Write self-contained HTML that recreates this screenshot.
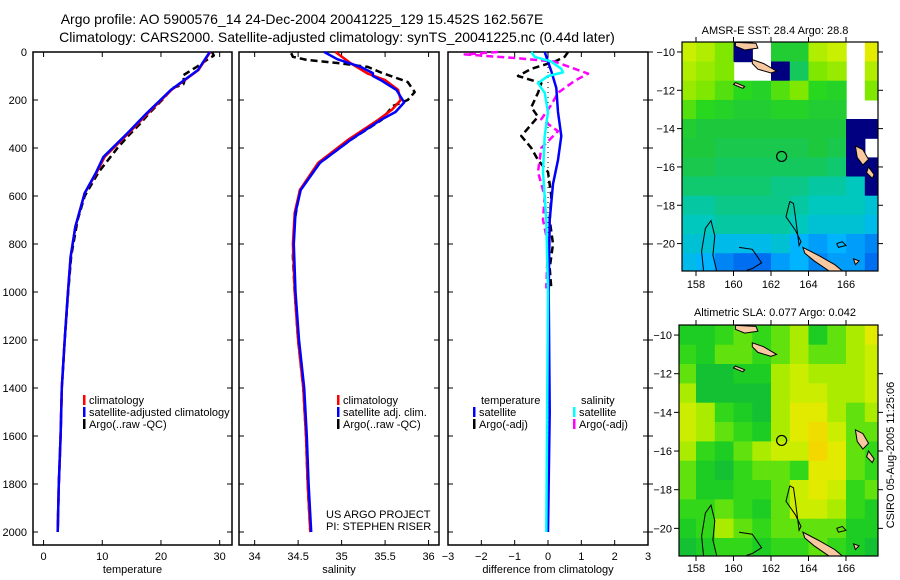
<!DOCTYPE html>
<html><head><meta charset="utf-8"><style>
html,body{margin:0;padding:0;background:#fff;width:900px;height:580px;overflow:hidden}
svg{display:block;font-family:"Liberation Sans",sans-serif}
</style></head><body>
<svg id="c" width="900" height="580" viewBox="0 0 900 580" xmlns="http://www.w3.org/2000/svg">
<text x="302" y="24" font-size="14" text-anchor="middle">Argo profile: AO 5900576_14 24-Dec-2004 20041225_129 15.452S 162.567E</text>
<text x="337" y="42" font-size="14" text-anchor="middle">Climatology: CARS2000. Satellite-adjusted climatology: synTS_20041225.nc (0.44d later)</text>
<text x="775" y="34" font-size="11" text-anchor="middle">AMSR-E SST: 28.4 Argo: 28.8</text>
<text x="775" y="316" font-size="11" text-anchor="middle">Altimetric SLA: 0.077 Argo: 0.042</text>
<text transform="translate(894,455) rotate(-90)" font-size="11" text-anchor="middle">CSIRO 05-Aug-2005 11:25:06</text>
</svg>
<script>
// ---- profile data ----
const tDepth = [0,75,158,254,338,437,504,588,729,854,1021,1200,1400,1600,1800,2000];
const tClim  = [28.4,26.4,21.8,17.8,14.5,10.4,9.0,7.0,5.4,4.6,4.1,3.6,3.1,2.9,2.6,2.4];
const tSat   = [28.3,26.3,21.7,17.6,14.3,10.2,8.9,7.0,5.4,4.6,4.1,3.6,3.1,2.9,2.6,2.4];
const argoTDepth = [0,15,30,60,100,120,135,150,200,250,300,350,400,450,500,600,700,850,1000,1200,1400,1600,1800,2000];
const argoT = [28.7,29.0,28.0,26.2,23.6,24.0,23.8,22.0,20.2,18.2,16.4,14.4,12.6,11.0,9.4,7.0,5.8,4.7,4.2,3.6,3.1,2.9,2.6,2.4];
const sDepth = [0,46,90,117,158,200,240,283,367,462,575,670,800,1000,1200,1400,1600,1800,2000];
const sClim  = [34.93,35.1,35.3,35.5,35.65,35.68,35.58,35.42,35.07,34.73,34.52,34.46,34.44,34.46,34.5,34.56,34.59,34.61,34.64];
const sSatDepth = [0,30,62,88,100,117,158,210,250,283,367,462,575,670,800,1000,1200,1400,1600,1800,2000];
const sSat  = [34.8,34.95,35.22,35.36,35.36,35.45,35.63,35.72,35.62,35.45,35.1,34.75,34.53,34.47,34.45,34.47,34.51,34.57,34.6,34.62,34.65];
const argoSDepth = [5,20,33,46,62,85,125,167,200,225,283,367,462,575,700,850,1000,1200,1400,1600,1800,2000];
const argoS = [34.42,34.44,34.6,34.95,35.3,35.45,35.76,35.84,35.76,35.59,35.46,35.1,34.75,34.52,34.46,34.44,34.46,34.5,34.56,34.59,34.61,34.64];
// ---- difference data ----
const dTsatDepth = [0,40,80,150,250,350,450,550,700,1000,1500,2000];
const dTsat = [-0.1,0.0,0.1,0.25,0.3,0.4,0.3,0.15,0.05,0.02,0.05,0.0];
const dSsatDepth = [0,20,40,70,85,100,130,170,250,350,500,700,1000,2000];
const dSsat = [-0.5,-0.4,0.1,0.4,0.45,0.0,-0.3,-0.1,0.0,-0.1,-0.15,-0.05,0.0,-0.05];
const dArgoTDepth = [0,20,40,70,100,130,170,230,270,350,400,450,500,600,700,800,900,985];
const dArgoT = [0.6,0.5,0.2,-0.5,-0.9,-0.2,-0.3,-0.5,-0.3,-0.8,-0.5,-0.3,0.0,0.1,0.05,0.15,0.05,0.1];
const dArgoSDepth = [0,10,25,40,60,90,120,170,220,280,330,400,500,600,700,800,985];
const dArgoS = [-1.5,-2.5,-1.0,0.2,0.6,1.2,0.8,0.3,0.1,-0.2,0.3,-0.2,-0.3,-0.1,-0.15,0.0,-0.05];
// ---- map data (rows lat -10..-21, cols lon 157.5..167.5) ----
const mapLats = [-10,-11,-12,-13,-14,-15,-16,-17,-18,-19,-20,-21];
const mapLons = [157.5,158.5,159.5,160.5,161.5,162.5,163.5,164.5,165.5,166.5,167.5];
const sstGrid = [
[29.3,29.2,29.0,26,null,28.6,28.6,29.2,29.3,null,29.5],
[29.2,29.1,29.0,null,null,26,28.3,29.0,29.1,null,29.2],
[29.1,29.0,28.9,28.8,28.7,28.9,29.0,28.8,28.7,null,29.0],
[28.9,28.8,28.7,28.6,28.6,28.7,28.7,28.6,28.6,null,null],
[28.6,28.5,28.5,28.5,28.5,28.5,28.5,28.5,28.5,26,26],
[28.5,28.5,28.4,28.4,28.4,28.4,28.4,28.5,28.4,26,null],
[28.4,28.4,28.3,28.3,28.3,28.3,28.3,28.3,28.2,26,26],
[28.2,28.2,28.2,28.2,28.2,28.1,28.1,28.0,28.0,27.9,26],
[28.0,28.0,28.1,28.1,28.1,28.1,28.0,27.9,27.9,27.9,27.8],
[27.9,27.9,28.0,28.0,28.0,28.0,27.9,27.8,27.8,27.8,27.7],
[27.8,27.8,27.7,27.7,27.7,27.8,27.6,27.5,27.6,27.5,27.4],
[27.7,27.6,27.4,27.3,27.3,27.5,27.6,27.4,27.5,27.5,27.3]];
const slaGrid = [
[0.3,0.3,0.4,0.5,0.4,0.5,0.6,0.3,0.5,0.6,0.8],
[0.4,0.3,0.5,0.5,0.4,0.5,0.6,0.5,0.5,0.6,0.7],
[0.5,0.2,0.2,0.3,0.3,0.6,0.7,0.6,0.6,0.6,0.7],
[0.6,0.2,0.2,0.2,0.2,0.6,0.7,0.7,0.6,0.6,0.7],
[0.7,0.6,0.4,0.3,0.2,0.6,0.8,0.8,0.6,0.5,0.6],
[0.7,0.6,0.5,0.4,0.3,0.6,0.8,0.9,0.7,0.5,0.5],
[0.6,0.4,0.3,0.5,0.6,0.7,0.7,0.95,0.8,0.5,0.4],
[0.5,0.3,0.2,0.4,0.5,0.5,0.4,0.8,0.8,0.5,0.4],
[0.5,0.3,0.3,0.4,0.4,0.5,0.7,0.8,0.7,0.4,0.5],
[0.4,0.4,0.5,0.4,0.3,0.5,0.7,0.7,0.6,0.4,0.3],
[0.3,0.4,0.6,0.5,0.4,0.5,0.5,0.5,0.5,0.3,0.3],
[0.2,0.3,0.4,0.4,0.3,0.4,0.4,0.5,0.4,0.3,0.2]];
const floatLon = 162.567, floatLat = -15.452;

const NS='http://www.w3.org/2000/svg';
const svg=document.getElementById('c');
function mk(tag,attrs,parent){const e=document.createElementNS(NS,tag);for(const k in attrs)e.setAttribute(k,attrs[k]);(parent||svg).appendChild(e);return e;}
const yD = d => 52 + d*0.24;
const PY0=52, PY1=545;

function panel(x0,x1,xmin,xmax,ticks,tickLabels,xlabel,name,rightTicks){
  const xs = v => x0 + (v-xmin)/(xmax-xmin)*(x1-x0);
  const g=mk('g',{});
  
  
  const r=mk('rect',{x:x0,y:PY0,width:x1-x0,height:PY1-PY0,fill:'none',stroke:'#000','stroke-width':1.5},g);
  
  
  ticks.forEach((t,i)=>{
    const x=xs(t);
    mk('line',{x1:x,x2:x,y1:PY1,y2:PY1-5,stroke:'#000'},g);
    mk('line',{x1:x,x2:x,y1:PY0,y2:PY0+5,stroke:'#000'},g);
    const tl=mk('text',{x:x,y:PY1+15,'font-size':11,'text-anchor':'middle'},g);
    tl.textContent=tickLabels[i];
    
    
  });
  for(let d=0;d<=2000;d+=200){
    const y=yD(d);
    mk('line',{x1:x0,x2:x0+5,y1:y,y2:y,stroke:'#000'},g);
    mk('line',{x1:x1,x2:x1-5,y1:y,y2:y,stroke:'#000'},g);
    if(rightTicks) mk('line',{x1:x1,x2:x1+5,y1:y,y2:y,stroke:'#000'},g);
  }
  const xl=mk('text',{x:(x0+x1)/2,y:PY1+28,'font-size':11,'text-anchor':'middle'},g);
  xl.textContent=xlabel;
  
  
  return xs;
}
function line(xs,vals,depths,color,w,dash,name){
  const pts=vals.map((v,i)=>xs(v).toFixed(1)+','+yD(depths[i]).toFixed(1)).join(' ');
  const a={points:pts,fill:'none',stroke:color,'stroke-width':w,'stroke-linejoin':'round'};
  if(dash)a['stroke-dasharray']=dash;
  const p=mk('polyline',a);
  
  
}
function legend(x,y,color,label,name){
  const b=mk('rect',{x:x,y:y-6,width:2.5,height:10,fill:color});
  
  
  const t=mk('text',{x:x+6,y:y+3,'font-size':11});
  t.textContent=label;
  
  
}
function txt(x,y,s,name,anchor){const t=mk('text',{x:x,y:y,'font-size':11,'text-anchor':anchor||'start'});t.textContent=s;}

// depth axis labels
for(let d=0;d<=2000;d+=200){
  const t=mk('text',{x:27,y:yD(d)+4,'font-size':11,'text-anchor':'end'});
  t.textContent=d;
  
  
}
// panel 1
const xT=panel(33,232,-1.8,32.1,[0,10,20,30],['0','10','20','30'],'temperature','temperature-panel',false);
line(xT,argoT,argoTDepth,'#000',2.5,'7,4','argo-temperature-line');
line(xT,tClim,tDepth,'#f00',2.5,null,'climatology-temperature-line');
line(xT,tSat,tDepth,'#00f',2.5,null,'satellite-temperature-line');
legend(83,401,'#f00','climatology','legend-climatology');
legend(83,413,'#00f','satellite-adjusted climatology','legend-satellite');
legend(83,425,'#000','Argo(..raw -QC)','legend-argo');
// panel 2
const xS=panel(239,439,33.82,36.12,[34,34.5,35,35.5,36],['34','34.5','35','35.5','36'],'salinity','salinity-panel',false);
line(xS,argoS,argoSDepth,'#000',2.5,'7,4','argo-salinity-line');
line(xS,sClim,sDepth,'#f00',2.5,null,'climatology-salinity-line');
line(xS,sSat,sSatDepth,'#00f',2.5,null,'satellite-salinity-line');
legend(337,401,'#f00','climatology','legend-s-climatology');
legend(337,413,'#00f','satellite adj. clim.','legend-s-satellite');
legend(337,425,'#000','Argo(..raw -QC)','legend-s-argo');
txt(326,518,'US ARGO PROJECT','project-credit');
txt(326,530,'PI: STEPHEN RISER','pi-credit');
// panel 3
const xD=panel(448,648,-3,3,[-3,-2,-1,0,1,2,3],['\u22123','\u22122','\u22121','0','1','2','3'],'difference from climatology','difference-panel',true);
const zl=mk('line',{x1:xD(0),x2:xD(0),y1:PY0,y2:yD(2000),stroke:'#000','stroke-dasharray':'1,4'});


line(xD,dArgoT,dArgoTDepth,'#000',2.5,'7,4','argo-temp-difference-line');
line(xD,dArgoS,dArgoSDepth,'#f0f',2.5,'7,4','argo-sal-difference-line');
line(xD,dTsat,dTsatDepth,'#00f',2.5,null,'satellite-temp-difference-line');
line(xD,dSsat,dSsatDepth,'#0ff',2.5,null,'satellite-sal-difference-line');
txt(481,404,'temperature','legend-temperature-header');
legend(473,413,'#00f','satellite','legend-d-tsat');
legend(473,425,'#000','Argo(-adj)','legend-d-targo');
txt(581,404,'salinity','legend-salinity-header');
legend(573,413,'#0ff','satellite','legend-d-ssat');
legend(573,425,'#f0f','Argo(-adj)','legend-d-sargo');

// maps
function lerpColor(stops,v){
  if(v<=stops[0][0])return stops[0][1];
  for(let i=1;i<stops.length;i++){if(v<=stops[i][0]){const a=stops[i-1],b=stops[i],t=(v-a[0])/(b[0]-a[0]);
    return 'rgb('+[0,1,2].map(k=>Math.round(a[1][k]+(b[1][k]-a[1][k])*t)).join(',')+')';}}
  return stops[stops.length-1][1];
}
function toCss(c){return typeof c==='string'?c:'rgb('+c.join(',')+')';}
const sstStops=[[27.3,[0,110,240]],[27.6,[0,180,255]],[27.9,[0,200,190]],[28.2,[16,200,110]],[28.5,[30,200,60]],[28.8,[40,216,30]],[29.0,[128,232,0]],[29.3,[200,240,0]],[29.6,[240,232,0]]];
const slaStops=[[0.1,[20,180,70]],[0.25,[20,200,40]],[0.45,[60,220,20]],[0.6,[170,235,0]],[0.75,[220,240,0]],[0.95,[245,215,0]]];
function drawMap(px0,py0,px1,py1,grid,stops,name,navy,lblY){
  const lonX = lo => 696 + (lo-158)*18.75;
  const latY = la => (py0 + (py1-py0)*(-9.48-la)/(-9.48+21.43));
  const g=mk('g',{});
  
  
  const cid=name+'-clip';
  const cp=mk('clipPath',{id:cid},g);mk('rect',{x:px0,y:py0,width:px1-px0,height:py1-py0},cp);
  const cg=mk('g',{'clip-path':'url(#'+cid+')'},g);
  mk('rect',{x:px0,y:py0,width:px1-px0,height:py1-py0,fill:'#fff'},cg);
  grid.forEach((row,i)=>row.forEach((v,j)=>{
    if(v===null)return;
    const col = (navy && v<27) ? '#000080' : toCss(lerpColor(stops,v));
    const x=lonX(mapLons[j]-0.5), y=latY(mapLats[i]+0.5);
    const c=mk('rect',{x:x.toFixed(1),y:y.toFixed(1),width:(18.75+0.6).toFixed(1),height:((py1-py0)/11.95+0.6).toFixed(1),fill:col},cg);
    
    
  }));
  // islands (lon/lat shapes)
  const isl=[[[160.1,-9.5],[161.2,-9.55],[161.3,-9.8],[160.6,-9.9],[160.1,-9.7]],
             [[161.0,-10.4],[161.6,-10.6],[162.3,-11.0],[162.0,-11.1],[161.3,-10.9],[161.0,-10.6]],
             [[160.1,-11.6],[160.6,-11.8],[160.5,-11.9],[160.0,-11.7]],
             [[166.5,-14.9],[166.9,-15.1],[167.2,-15.6],[166.9,-15.9],[166.6,-15.5]],
             [[167.2,-16.0],[167.5,-16.4],[167.4,-16.6],[167.1,-16.3]],
             [[163.7,-20.2],[164.5,-20.6],[165.4,-21.1],[165.9,-21.5],[165.2,-21.5],[164.3,-20.9],[163.8,-20.5]],
             [[166.4,-20.8],[166.7,-20.9],[166.5,-21.1]]];
  isl.forEach(p=>{const s=mk('polygon',{points:p.map(q=>lonX(q[0]).toFixed(1)+','+latY(q[1]).toFixed(1)).join(' '),fill:'#f8c8a0',stroke:'#000','stroke-width':1},cg);
    
    });
  const reefs=[[[158.4,-21.4],[158.3,-20.4],[158.5,-19.2],[158.8,-18.8],[159.0,-19.6],[158.9,-20.6],[159.1,-21.4]],
               [[163.0,-17.8],[162.8,-18.6],[163.3,-19.3],[163.6,-19.9],[163.5,-20.1],[163.3,-18.6],[163.2,-17.9],[163.0,-17.8]],
               [[160.3,-20.2],[161.0,-20.3],[161.5,-21.0],[161.0,-21.3],[160.7,-21.4]],
               [[165.5,-20.0],[165.8,-19.9],[166.0,-20.1],[165.6,-20.2],[165.5,-20.0]]];
  reefs.forEach(p=>{const s=mk('polyline',{points:p.map(q=>lonX(q[0]).toFixed(1)+','+latY(q[1]).toFixed(1)).join(' '),fill:'none',stroke:'#000','stroke-width':1},cg);
    
    });
  const fc=mk('circle',{cx:lonX(floatLon),cy:latY(floatLat),r:5,fill:'none',stroke:'#000','stroke-width':1.2},cg);
  
  
  const fr=mk('rect',{x:px0,y:py0,width:px1-px0,height:py1-py0,fill:'none',stroke:'#000','stroke-width':1.2},g);
  
  
  for(let la=-10;la>=-20;la-=2){const y=latY(la);
    mk('line',{x1:px0,x2:px0-5,y1:y,y2:y,stroke:'#000'},g);
    mk('line',{x1:px1,x2:px1+5,y1:y,y2:y,stroke:'#000'},g);
    const t=mk('text',{x:px0-7,y:y+4,'font-size':11,'text-anchor':'end'},g);t.textContent='\u2212'+(-la);
    
    }
  for(let lo=158;lo<=166;lo+=2){const x=lonX(lo);
    mk('line',{x1:x,x2:x,y1:py1,y2:py1+5,stroke:'#000'},g);
    mk('line',{x1:x,x2:x,y1:py0,y2:py0-5,stroke:'#000'},g);
    const t=mk('text',{x:x,y:lblY,'font-size':11,'text-anchor':'middle'},g);t.textContent=lo;
    
    }
}
drawMap(682,42,878,271,sstGrid,sstStops,'sst-map',true,288);
drawMap(679,325,878,556,slaGrid,slaStops,'sla-map',false,572);
</script>
</body></html>
